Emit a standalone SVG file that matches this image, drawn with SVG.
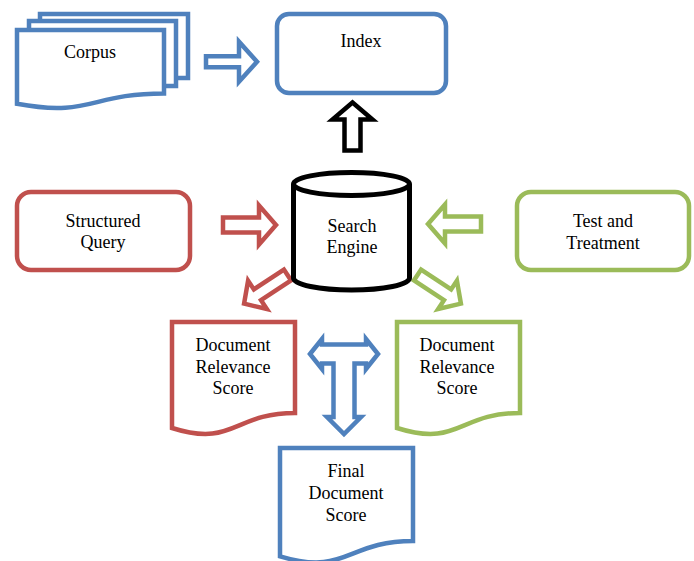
<svg xmlns="http://www.w3.org/2000/svg" xmlns:xlink="http://www.w3.org/1999/xlink" width="694" height="561" viewBox="0 0 694 561">
<style>
.blue{stroke:#4F81BD}
.red{stroke:#C0504D}
.green{stroke:#9BBB59}
.shape{fill:#FFFFFF;stroke-width:4.5;stroke-linejoin:miter}
.arrow{fill:#FFFFFF;stroke-width:4.5;stroke-linejoin:miter}
.lbl{font-family:"Liberation Serif","Times New Roman",serif;font-size:18px;fill:#000000;text-anchor:middle}
</style>
<defs>
<path id="arrM" d="M0,-7.5 L36,-7.5 L36,-19.5 L53,0 L36,19.5 L36,7.5 L0,7.5 Z"/>
<path id="arrS" d="M0,-6.5 L36,-6.5 L36,-17 L52,0 L36,17 L36,6.5 L0,6.5 Z"/>
</defs>
<rect width="694" height="561" fill="#FFFFFF"/>

<g id="connectors">
<path class="arrow blue" d="M0,-5.5 L33,-5.5 L33,-20 L51,0 L33,20 L33,5.5 L0,5.5 Z" transform="translate(206,61.7)"/>
<path class="arrow" stroke="#000000" stroke-width="5" d="M0,-8 L31,-8 L31,-20 L48,0 L31,20 L31,8 L0,8 Z" transform="translate(352.5,150.5) rotate(-90)"/>
<use class="arrow red" xlink:href="#arrM" transform="translate(223,225)"/>
<use class="arrow green" xlink:href="#arrM" transform="translate(481,224) rotate(180)"/>
<use class="arrow red" xlink:href="#arrS" transform="translate(287.5,275) rotate(146.6)"/>
<use class="arrow green" xlink:href="#arrS" transform="translate(417.5,275) rotate(33.4)"/>
<path class="arrow blue" d="M310,354 L322,339 L322,344.5 L366,344.5 L366,339 L378,354 L366,369 L366,363.5 L354.5,363.5 L354.5,417 L361,417 L344,434 L327,417 L333.5,417 L333.5,363.5 L322,363.5 L322,369 Z"/>
</g>

<g id="corpus">
<path class="shape blue" fill="none" d="M40,21 L40,14 L188,14 L188,78 L176,78"/>
<path class="shape blue" d="M29,30 L29,21 L176,21 L176,86 L164,86"/>
<path class="shape blue" d="M17,30 L164,30 L164,93.4 C90.5,93.4 90.5,117.5 17,103.8 Z"/>
<text class="lbl" x="90" y="58">Corpus</text>
</g>

<g id="index">
<rect class="shape blue" x="277" y="14" width="169" height="79" rx="12"/>
<text class="lbl" x="361" y="47">Index</text>
</g>

<g id="structured-query">
<rect class="shape red" x="17" y="192" width="173" height="78" rx="14"/>
<text class="lbl" x="103" y="227">Structured</text>
<text class="lbl" x="103" y="248">Query</text>
</g>

<g id="test-treatment">
<rect class="shape green" x="517" y="192" width="172" height="78" rx="14"/>
<text class="lbl" x="603" y="227">Test and</text>
<text class="lbl" x="603" y="249">Treatment</text>
</g>

<g id="search-engine">
<path fill="#FFFFFF" stroke="#000000" stroke-width="5" d="M293.5,184 L293.5,278 A58,12 0 0 0 409.5,278 L409.5,184"/>
<ellipse cx="351.5" cy="184" rx="58" ry="11.5" fill="#FFFFFF" stroke="#000000" stroke-width="5"/>
<text class="lbl" x="352" y="232">Search</text>
<text class="lbl" x="352" y="253">Engine</text>
</g>

<g id="drs-red">
<path class="shape red" d="M172,322 L295,322 L295,413 C233.5,413 233.5,447.6 172,428 Z"/>
<text class="lbl" x="233" y="351">Document</text>
<text class="lbl" x="233" y="373">Relevance</text>
<text class="lbl" x="233" y="394">Score</text>
</g>

<g id="drs-green">
<path class="shape green" d="M397,322 L520,322 L520,413 C458.5,413 458.5,447.6 397,428 Z"/>
<text class="lbl" x="457" y="351">Document</text>
<text class="lbl" x="457" y="373">Relevance</text>
<text class="lbl" x="457" y="394">Score</text>
</g>

<g id="final-score">
<path class="shape blue" d="M280,448 L413,448 L413,541 C346.5,541 346.5,576.4 280,556.3 Z"/>
<text class="lbl" x="346" y="477">Final</text>
<text class="lbl" x="346" y="499">Document</text>
<text class="lbl" x="346" y="521">Score</text>
</g>
</svg>
